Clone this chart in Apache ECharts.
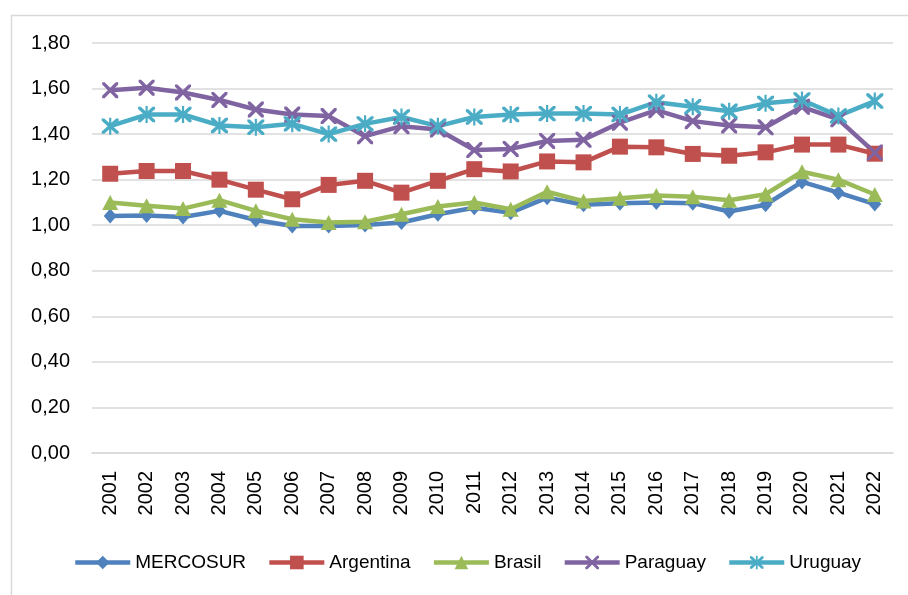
<!DOCTYPE html>
<html>
<head>
<meta charset="utf-8">
<script src="https://cdn.jsdelivr.net/npm/echarts@6/dist/echarts.min.js"></script>
<style>html,body{margin:0;padding:0;background:#fff;}#c{width:908px;height:595px;}</style>
</head>
<body>
<div id="c"></div>
<script>
const years = ['2001','2002','2003','2004','2005','2006','2007','2008','2009','2010','2011','2012','2013','2014','2015','2016','2017','2018','2019','2020','2021','2022'];
const mercosur = [1.04,1.043,1.036,1.063,1.023,0.997,0.997,1.001,1.012,1.048,1.077,1.055,1.121,1.09,1.097,1.10,1.097,1.06,1.09,1.19,1.143,1.093];
const argentina = [1.226,1.238,1.238,1.20,1.156,1.114,1.177,1.195,1.143,1.195,1.246,1.236,1.28,1.276,1.345,1.342,1.313,1.305,1.32,1.354,1.354,1.314];
const brasil = [1.10,1.085,1.073,1.11,1.063,1.026,1.012,1.015,1.048,1.082,1.10,1.07,1.147,1.106,1.118,1.13,1.125,1.11,1.136,1.235,1.20,1.135];
const paraguay = [1.593,1.604,1.583,1.55,1.508,1.486,1.479,1.391,1.435,1.42,1.33,1.335,1.37,1.375,1.45,1.505,1.457,1.438,1.43,1.52,1.465,1.319];
const uruguay = [1.435,1.486,1.486,1.438,1.43,1.445,1.40,1.445,1.475,1.435,1.475,1.486,1.49,1.49,1.486,1.54,1.52,1.50,1.535,1.55,1.48,1.545];
const yTicks = {min: 0, max: 1.8, interval: 0.2};

const crossPath = 'path://M0,0 L3,0 L10,7 L17,0 L20,0 L20,3 L13,10 L20,17 L20,20 L17,20 L10,13 L3,20 L0,20 L0,17 L7,10 L0,3 Z';
const starPath = 'path://M0,0 L3,0 L10,7 L17,0 L20,0 L20,3 L13,10 L20,17 L20,20 L17,20 L10,13 L3,20 L0,20 L0,17 L7,10 L0,3 Z M8.7,-1 L11.3,-1 L11.3,21 L8.7,21 Z';

const font = 'Liberation Sans';
function mk(name, data, color, symbol, size) {
  return {
    name, type: 'line', data, symbol, symbolSize: size,
    showSymbol: true,
    lineStyle: {color, width: 4.5},
    itemStyle: {color, borderWidth: 0},
    emphasis: {disabled: true}
  };
}
const chart = echarts.init(document.getElementById('c'), null, {renderer: 'canvas'});
chart.setOption({
  animation: false,
  backgroundColor: '#fff',
  textStyle: {fontFamily: font},
  graphic: [{type: 'rect', left: 9, top: 13, shape: {width: 1000, height: 1000}, style: {fill: 'none', stroke: '#d9d9d9', lineWidth: 1.5}, silent: true}],
  grid: {left: 92, right: 15, top: 43, bottom: 142, containLabel: false},
  legend: {
    left: 73, top: 553, padding: 0, itemWidth: 55, itemHeight: 17, itemGap: 21,
    lineStyle: {width: 4.5},
    itemStyle: {borderWidth: 0},
    textStyle: {fontSize: 19, color: '#000', fontFamily: font, padding: [0,0,0,0]},
    data: ['MERCOSUR','Argentina','Brasil','Paraguay','Uruguay']
  },
  xAxis: {
    type: 'category', data: years, boundaryGap: true,
    axisLine: {show: true, lineStyle: {color: '#d9d9d9', width: 1.5}},
    axisTick: {show: false},
    axisLabel: {rotate: 90, fontSize: 20, color: '#000', margin: 18, fontFamily: font, interval: 0}
  },
  yAxis: {
    type: 'value', min: yTicks.min, max: yTicks.max, interval: yTicks.interval,
    axisLine: {show: false}, axisTick: {show: false},
    splitLine: {lineStyle: {color: '#d9d9d9', width: 1.5}},
    axisLabel: {fontSize: 20, color: '#000', margin: 22, fontFamily: font,
      formatter: v => v.toFixed(2).replace('.', ',')}
  },
  series: [
    mk('MERCOSUR', mercosur, '#4F81BD', 'diamond', [13, 15]),
    mk('Argentina', argentina, '#C0504D', 'rect', 16),
    mk('Brasil', brasil, '#9BBB59', 'triangle', [16, 15]),
    mk('Paraguay', paraguay, '#8064A2', crossPath, 16),
    mk('Uruguay', uruguay, '#4BACC6', starPath, 17)
  ]
});
</script>
</body>
</html>
